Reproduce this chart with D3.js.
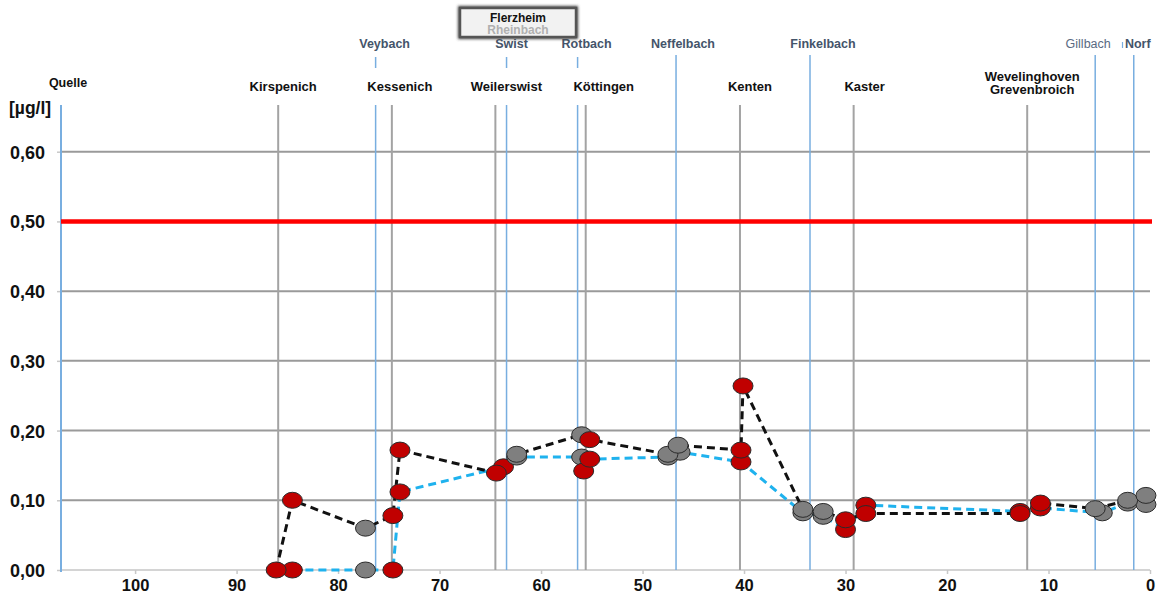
<!DOCTYPE html>
<html>
<head>
<meta charset="utf-8">
<script src="https://cdn.jsdelivr.net/npm/d3@7/dist/d3.min.js"></script>
<style>
  html, body { margin: 0; padding: 0; background: #fff; }
  svg { display: block; font-family: "Liberation Sans", Arial, sans-serif; }
</style>
</head>
<body>
<svg id="chart" width="1157" height="595"></svg>
<script>
// River kilometre (distance to mouth) on x, concentration in µg/l on y
const yTicks = [0, 0.1, 0.2, 0.3, 0.4, 0.5, 0.6];
const yTickLabels = ["0,00", "0,10", "0,20", "0,30", "0,40", "0,50", "0,60"];
const xTicks = [0, 10, 20, 30, 40, 50, 60, 70, 80, 90, 100];
const xTickLabels = ["0", "10", "20", "30", "40", "50", "60", "70", "80", "90", "100"];
const limitValue = 0.5;
const unitLabel = "[µg/l]";

// Sampling sites on the main river
const siteNames = ["Kirspenich", "Kessenich", "Weilerswist", "Köttingen", "Kenten", "Kaster", "Wevelinghoven\nGrevenbroich"];
const siteKm = [85.9, 74.7, 64.5, 55.6, 40.4, 29.2, 12.1];

// Source and tributary inflows
const sourceName = "Quelle";
const sourceKm = 107.3;
const tributaryNames = ["Veybach", "Swist", "Rotbach", "Neffelbach", "Finkelbach", "Gillbach", "Norf"];
const tributaryKm = [76.3, 63.4, 56.4, 46.7, 33.5, 5.4, 1.6];

// Campaign 1 (black dashed line)
const run1Km = [86.1, 84.5, 77.3, 74.6, 73.9, 64.4, 62.4, 56.0, 55.2, 47.5, 46.5, 40.3, 40.1, 34.2, 32.2, 30.0, 28.0, 12.8, 10.8, 5.4, 2.2, 0.4];
const run1Val = [0.000, 0.100, 0.060, 0.078, 0.172, 0.139, 0.166, 0.194, 0.187, 0.166, 0.179, 0.172, 0.264, 0.087, 0.084, 0.072, 0.081, 0.081, 0.096, 0.088, 0.100, 0.107];
const run1Kind = ["r", "r", "g", "r", "r", "r", "g", "g", "r", "g", "g", "r", "r", "g", "g", "r", "r", "r", "r", "g", "g", "g"];

// Campaign 2 (light blue dashed line)
const run2Km = [84.5, 77.3, 74.6, 73.9, 63.7, 62.4, 56.0, 55.8, 55.2, 47.5, 46.3, 40.3, 34.2, 32.2, 30.0, 28.0, 12.8, 10.8, 4.7, 2.2, 0.4];
const run2Val = [0.000, 0.000, 0.000, 0.112, 0.148, 0.162, 0.162, 0.142, 0.159, 0.162, 0.169, 0.155, 0.082, 0.077, 0.058, 0.093, 0.084, 0.089, 0.082, 0.096, 0.094];
const run2Kind = ["r", "g", "r", "r", "r", "g", "g", "r", "r", "g", "g", "r", "g", "g", "r", "r", "r", "r", "g", "g", "g"];

// Box caption at the top
const boxLines = ["Flerzheim", "Rheinbach"];

// Label nudges in pixels (layout only)
const siteLabelDx = [5, 8, 11, 18, 10, 11, 5];
const tributaryLabelDx = [9, 5, 9, 7, 13, -7, 4];
const tributaryFullHeight = [false, false, false, true, true, true, true];

const svg = d3.select("#chart");
const plotLeft = 61, plotRight = 1150, plotTop = 105, plotBottom = 570;

const x = d3.scaleLinear().domain([sourceKm, 0]).range([plotLeft, plotRight]);
const y = d3.scaleLinear().domain([0, 0.667]).range([plotBottom, plotTop]);

const gray = "#a3a3a3";
const blue = "#78aee0";
const tribText = "#44546a";

// Horizontal gridlines
svg.append("g").selectAll("line")
  .data(yTicks.filter(v => v !== limitValue))
  .join("line")
  .attr("x1", plotLeft).attr("x2", plotRight)
  .attr("y1", d => y(d)).attr("y2", d => y(d))
  .attr("stroke", d => d === 0 ? "#d4d4d4" : "#9a9a9a")
  .attr("stroke-width", 2);

// Y axis ticks & labels
const yAxis = d3.axisLeft(y).tickValues(yTicks).tickSize(4)
  .tickFormat(d => yTickLabels[yTicks.indexOf(d)]);
const gy = svg.append("g").attr("transform", `translate(${plotLeft},0)`).call(yAxis);
gy.select(".domain").remove();
gy.selectAll(".tick line").attr("stroke", "#c8c8c8").attr("stroke-width", 1.5);
gy.selectAll(".tick text")
  .attr("x", -16).attr("dy", "0.36em")
  .style("font-size", "18px").style("font-weight", "bold").attr("fill", "#111");

// X axis ticks & labels
const xAxis = d3.axisBottom(x).tickValues(xTicks).tickSize(4)
  .tickFormat(d => xTickLabels[xTicks.indexOf(d)]);
const gx = svg.append("g").attr("transform", `translate(0,${plotBottom})`).call(xAxis);
gx.select(".domain").remove();
gx.selectAll(".tick line").attr("stroke", "#c8c8c8").attr("stroke-width", 1.5);
gx.selectAll(".tick text")
  .attr("y", 21).attr("dy", null)
  .style("font-size", "16.5px").style("font-weight", "bold").attr("fill", "#111");

// Unit label
svg.append("text").attr("x", 9).attr("y", 114).text(unitLabel)
  .style("font-size", "17.5px").style("font-weight", "bold").attr("fill", "#111");

// Sampling site verticals
svg.append("g").selectAll("line").data(siteKm).join("line")
  .attr("x1", d => x(d)).attr("x2", d => x(d))
  .attr("y1", plotTop).attr("y2", plotBottom)
  .attr("stroke", gray).attr("stroke-width", 2);

// Source vertical (acts as the y axis line)
svg.append("line")
  .attr("x1", x(sourceKm)).attr("x2", x(sourceKm))
  .attr("y1", plotTop).attr("y2", plotBottom + 2)
  .attr("stroke", blue).attr("stroke-width", 2);

// Tributary verticals
const tribG = svg.append("g");
tributaryKm.forEach((km, i) => {
  if (tributaryFullHeight[i]) {
    tribG.append("line")
      .attr("x1", x(km)).attr("x2", x(km)).attr("y1", 55).attr("y2", plotBottom)
      .attr("stroke", blue).attr("stroke-width", 1.5);
  } else {
    tribG.append("line")
      .attr("x1", x(km)).attr("x2", x(km)).attr("y1", 57).attr("y2", 68)
      .attr("stroke", blue).attr("stroke-width", 1.5);
    tribG.append("line")
      .attr("x1", x(km)).attr("x2", x(km)).attr("y1", plotTop).attr("y2", plotBottom)
      .attr("stroke", blue).attr("stroke-width", 1.5);
  }
});
// small separator between Gillbach and Norf captions
svg.append("line").attr("x1", 1122.5).attr("x2", 1122.5).attr("y1", 42).attr("y2", 48)
  .attr("stroke", blue).attr("stroke-width", 1.2);

// Limit line
svg.append("line")
  .attr("x1", plotLeft).attr("x2", plotRight + 2)
  .attr("y1", y(limitValue)).attr("y2", y(limitValue))
  .attr("stroke", "#ff0000").attr("stroke-width", 4.5);

// Site captions
const siteG = svg.append("g").style("font-size", "13px").style("font-weight", "bold").attr("fill", "#111");
siteNames.forEach((name, i) => {
  const parts = name.split("\n");
  const cx = x(siteKm[i]) + siteLabelDx[i];
  const t = siteG.append("text").attr("text-anchor", "middle").attr("x", cx);
  if (parts.length === 1) {
    t.attr("y", 91).text(name);
  } else {
    parts.forEach((p, j) => t.append("tspan").attr("x", cx).attr("y", 81 + j * 13).text(p));
  }
});
svg.append("text").attr("x", x(sourceKm) + 7).attr("y", 87).attr("text-anchor", "middle")
  .text(sourceName).style("font-size", "12.5px").style("font-weight", "bold").attr("fill", "#111");

// Tributary captions
svg.append("g").selectAll("text").data(tributaryNames).join("text")
  .attr("x", (d, i) => x(tributaryKm[i]) + tributaryLabelDx[i])
  .attr("y", 48)
  .attr("text-anchor", "middle")
  .text(d => d)
  .style("font-size", "12.5px")
  .style("font-weight", d => d === "Gillbach" ? "normal" : "bold")
  .attr("fill", d => d === "Gillbach" ? "#5a6a82" : tribText);

// Caption box
const defs = svg.append("defs");
const f = defs.append("filter").attr("id", "soft").attr("x", "-20%").attr("y", "-40%").attr("width", "140%").attr("height", "180%");
f.append("feGaussianBlur").attr("stdDeviation", 1.6);
svg.append("rect").attr("x", 460).attr("y", 8).attr("width", 116).attr("height", 29)
  .attr("fill", "none").attr("stroke", "#444").attr("stroke-width", 4).attr("filter", "url(#soft)");
svg.append("rect").attr("x", 460).attr("y", 8).attr("width", 116).attr("height", 29)
  .attr("fill", "#f2f2f2").attr("stroke", "#555").attr("stroke-width", 2.5);
svg.append("text").attr("x", 518).attr("y", 22).attr("text-anchor", "middle").text(boxLines[0])
  .style("font-size", "12px").style("font-weight", "bold").attr("fill", "#111");
svg.append("text").attr("x", 518).attr("y", 34).attr("text-anchor", "middle").text(boxLines[1])
  .style("font-size", "12px").style("font-weight", "bold").attr("fill", "#b0b0b0");

// Campaign lines
const line = d3.line().x(d => x(d[0])).y(d => y(d[1]));
const run1 = run1Km.map((k, i) => [k, run1Val[i], run1Kind[i]]);
const run2 = run2Km.map((k, i) => [k, run2Val[i], run2Kind[i]]);

svg.append("path").datum(run2).attr("d", line)
  .attr("fill", "none").attr("stroke", "#1fb2ee").attr("stroke-width", 3)
  .attr("stroke-dasharray", "8,5");
svg.append("path").datum(run1).attr("d", line)
  .attr("fill", "none").attr("stroke", "#111").attr("stroke-width", 3)
  .attr("stroke-dasharray", "8,5");

// Sample markers
const fillFor = k => k === "r" ? "#c00000" : "#7f7f7f";
const drawMarkers = data => svg.append("g").selectAll("ellipse").data(data).join("ellipse")
  .attr("cx", d => x(d[0])).attr("cy", d => y(d[1]))
  .attr("rx", 10).attr("ry", 8)
  .attr("fill", d => fillFor(d[2]))
  .attr("stroke", "#2b2b2b").attr("stroke-width", 1);
drawMarkers(run2);
drawMarkers(run1);
</script>
</body>
</html>
